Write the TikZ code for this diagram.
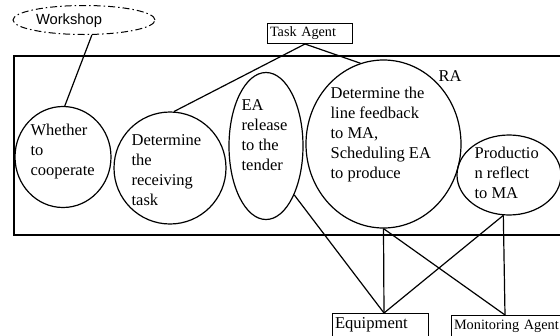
\documentclass[tikz,border=0pt]{standalone}
\usepackage{fontspec}
\setmainfont{Liberation Serif}
\newfontfamily\arialf{Liberation Sans}
\usetikzlibrary{shapes.geometric,calc}
\begin{document}
\begin{tikzpicture}[x=1pt,y=-1pt,line width=1.2pt,
  bubble/.style={draw,ellipse,inner sep=0pt},
  txt/.style={align=left,anchor=west,inner sep=0pt,font=\fontsize{16.5}{20}\selectfont},
  agentbox/.style={draw,rectangle,line width=1pt,inner ysep=0pt,align=left,anchor=north west}]
\useasboundingbox (0,0) rectangle (560,335);
% outer RA frame
\draw (14,56) rectangle (575,235);
\node[font=\fontsize{16.5}{20}\selectfont,inner sep=0pt] (ra) at (450,76) {RA};
% workshop
\node[draw,ellipse,inner sep=0pt,minimum width=142,minimum height=29,
      dash pattern=on 7pt off 3pt on 1.5pt off 3pt,line width=1pt] (ws) at (84,20) {};
\node[font=\arialf\fontsize{14.7}{16}\selectfont,inner sep=0pt] (wst) at (69,21) {Workshop};
% task agent
\node[agentbox,text width=80,inner xsep=2.5pt,minimum height=20,
      font=\fontsize{14.2}{16}\selectfont] (ta) at (267,23) {Task Agent};
% bubbles
\node[bubble,minimum width=96,minimum height=101] (c1) at (63,157) {};
\node[bubble,minimum width=112,minimum height=112] (c2) at (170,168) {};
\node[bubble,minimum width=74,minimum height=147] (e3) at (266,146) {};
\node[bubble,minimum width=155,minimum height=168] (c4) at (383.5,144) {};
\node[bubble,minimum width=104,minimum height=80] (c5) at (509,175) {};
% bubble texts
\node[txt] (t1) at (30,152) {Whether\\to\\cooperate};
\node[txt] (t2) at (131,170.5) {Determine\\the\\receiving\\task};
\node[txt] (t3) at (241,135) {EA\\release\\to the\\tender};
\node[txt] (t4) at (330,135) {Determine the\\line feedback\\to MA,\\Scheduling EA\\to produce};
\node[txt] (t5) at (474,173) {Productio\\n reflect\\to MA};
% bottom agents
\node[agentbox,text width=91,inner xsep=2.5pt,minimum height=23,
      font=\fontsize{16.6}{18}\selectfont] (eq) at (332,313) {Equipment};
\node[agentbox,text width=120,inner xsep=2.5pt,minimum height=22,
      font=\fontsize{14.3}{16}\selectfont] (ma) at (451,315) {Monitoring Agent};
% connectors
\draw (ws.-62) -- (c1.88);
\draw ($(ta.south)+(-5,0)$) -- (c2.86);
\draw ($(ta.south)+(-5,0)$) -- (c4.106);
\draw (e3.-60) -- ($(eq.north)+(3.5,0)$);
\draw (c4.south) -- ($(eq.north)+(3.5,0)$);
\draw (c4.south) -- ($(ma.north)+(-9,0)$);
\draw (c5.-98) -- ($(eq.north)+(3.5,0)$);
\draw (c5.-98) -- ($(ma.north)+(-9,0)$);
\end{tikzpicture}
\end{document}
